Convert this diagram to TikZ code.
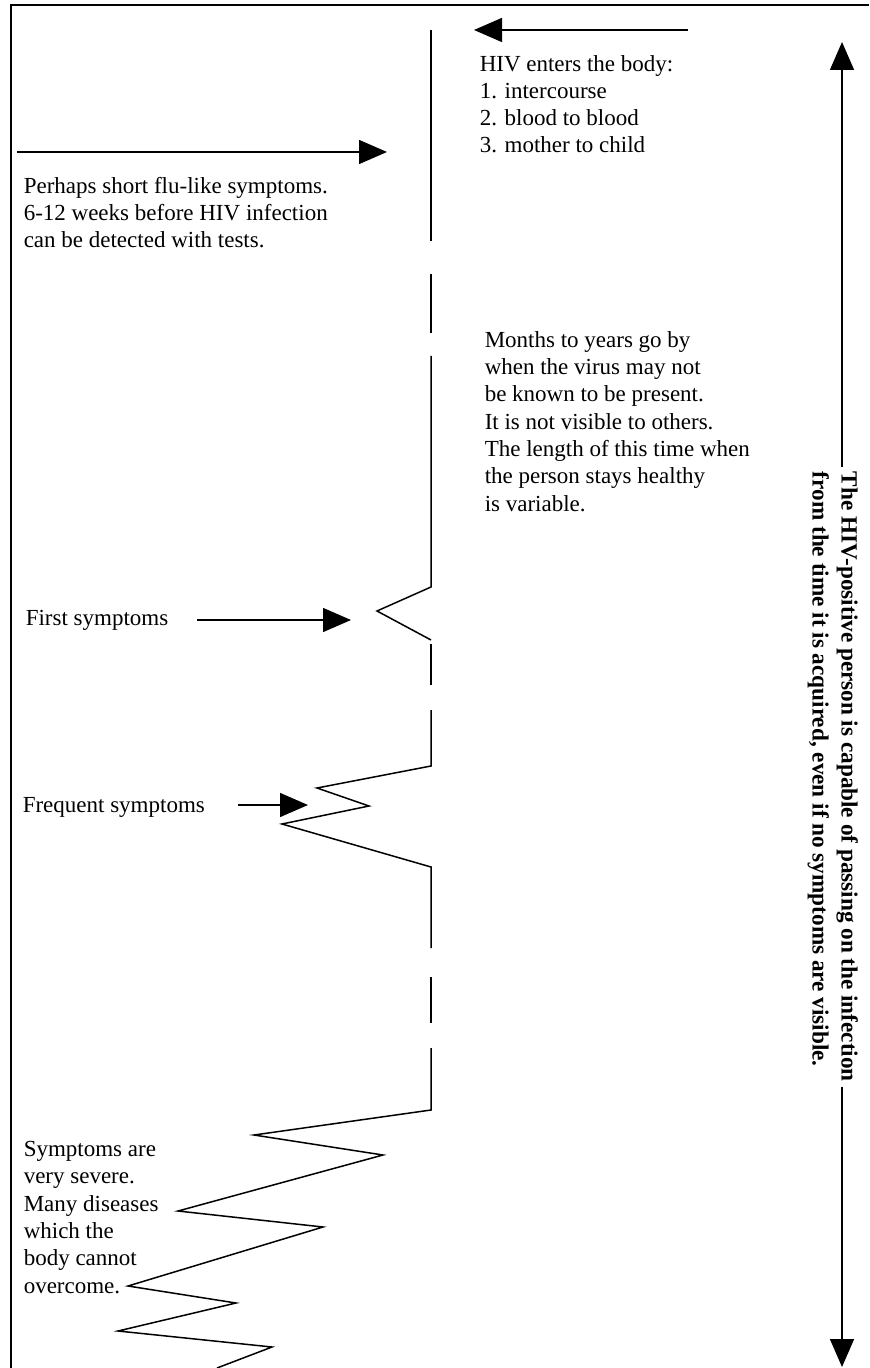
\documentclass[tikz,border=0pt]{standalone}
\usepackage{fontspec}
\setmainfont{Liberation Serif}
\usetikzlibrary{arrows.meta}
\begin{document}
\begin{tikzpicture}[x=0.5pt, y=-0.5pt, line width=0.75pt,
        tip/.style={-{Triangle[length=14pt,width=12pt]}},
        txt/.style={anchor=base west, align=left, inner sep=0pt,
            font=\fontsize{11.5}{13.65}\selectfont},
        note/.style={align=left, inner sep=0pt, outer sep=2.5pt,
            font=\bfseries\fontsize{11.6}{14.5}\selectfont}]
        \useasboundingbox (0,0) rectangle (869,1368);

        % frame
        \draw[line width=1pt] (11,1368) -- (11,5) -- (869,5);

        % time line with gaps and zigzags
        \draw (431,30) -- (431,241);
        \draw (431,274) -- (431,333);
        \draw (431,356) -- (431,587) -- (377,611) -- (431,640);
        \draw (431,644) -- (431,685);
        \draw (431,710) -- (431,766) -- (317,788) -- (369,806) -- (282,824)
            -- (431,867) -- (431,948);
        \draw (431,977) -- (431,1023);
        \draw (431,1048) -- (431,1110) -- (254,1135) -- (383,1155) -- (178,1211)
            -- (323,1227) -- (128,1286) -- (236,1303) -- (118,1331) -- (272,1347)
            -- (217,1368);

        % infection (base = last line)
        \node[txt] (hiv) at (479,153) {HIV enters the body:\\1. intercourse\\2. blood to blood\\3. mother to child};
        \coordinate (hivtail) at (688,30);
        \coordinate (hivtip) at (474,30);
        \draw[tip] (hivtail) -- (hivtip);

        % first weeks
        \coordinate (flutail) at (17,152);
        \coordinate (flutip) at (387,152);
        \draw[tip] (flutail) -- (flutip);
        \node[txt] (flu) at (23,248) {Perhaps short flu-like symptoms.\\6-12 weeks before HIV infection\\can be detected with tests.};

        % healthy years
        \node[txt] (months) at (484,511) {Months to years go by\\when the virus may not\\be known to be present.\\It is not visible to others.\\The length of this time when\\the person stays healthy\\is variable.};

        % first symptoms
        \node[txt] (first) at (25,625) {First symptoms};
        \coordinate (firsttail) at (197,620);
        \coordinate (firsttip) at (351,620);
        \draw[tip] (firsttail) -- (firsttip);

        % frequent symptoms
        \node[txt] (frequent) at (22,812) {Frequent symptoms};
        \coordinate (freqtail) at (238,805);
        \coordinate (freqtip) at (308,805);
        \draw[tip] (freqtail) -- (freqtip);

        % severe
        \node[txt] (severe) at (23,1293) {Symptoms are\\very severe.\\Many diseases\\which the\\body cannot\\overcome.};

        % right side: whole period
        \node[note, rotate=-90, anchor=north west] (note) at (863,467) {The HIV-positive person is capable of passing on the infection\\from the time it is acquired, even if no symptoms are visible.};
        \coordinate (uptip) at (842,42);
        \coordinate (downtip) at (842,1367);
        \draw[tip] (uptip |- note.west) -- (uptip);
        \draw[tip] (downtip |- note.east) -- (downtip);
\end{tikzpicture}
\end{document}
